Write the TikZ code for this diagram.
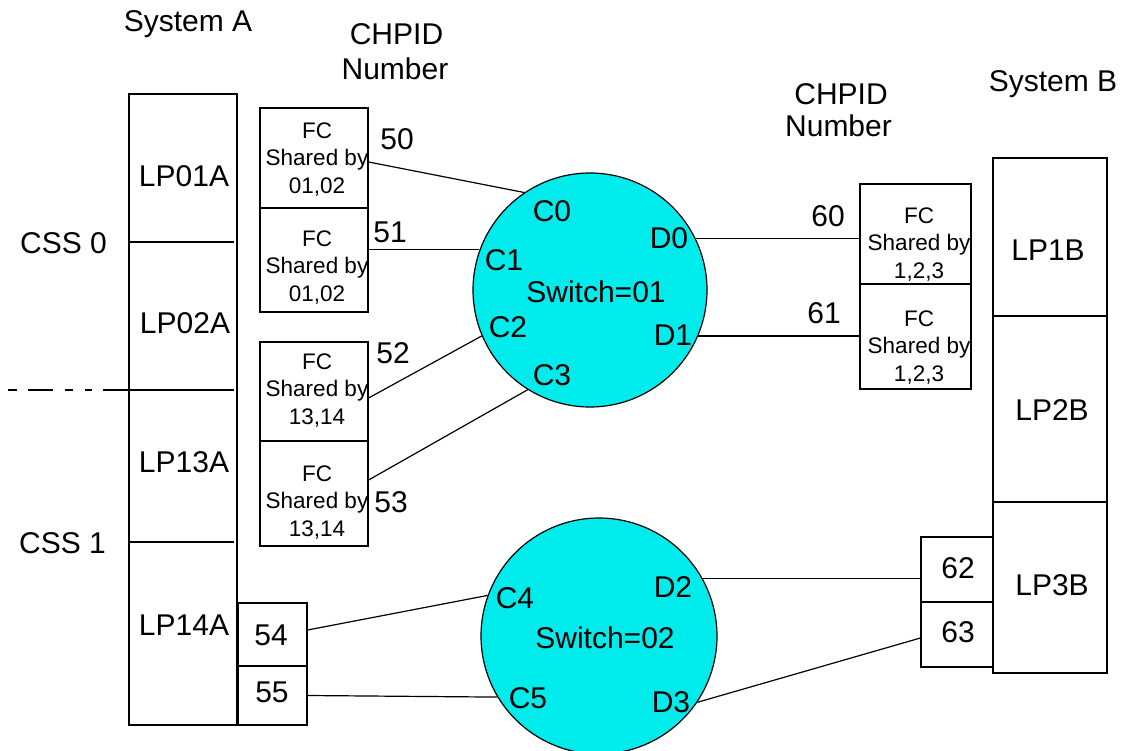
\documentclass[tikz,border=0pt]{standalone}
\usepackage{fontspec}
\setmainfont{Liberation Sans}
\definecolor{swcyan}{RGB}{0,235,235}
\begin{document}
\begin{tikzpicture}[x=1pt,y=-1pt,
  line width=1.2pt,
  big/.style={font=\fontsize{30}{35}\selectfont, inner sep=0pt, anchor=base},
  small/.style={font=\fontsize{22.5}{27.5}\selectfont, inner sep=0pt, anchor=north, align=center},
  rect/.style={draw, rectangle, inner sep=0pt, minimum width=#1},
  switch/.style={draw, circle, fill=swcyan, inner sep=0pt, minimum size=#1}
]
\useasboundingbox (0,0) rectangle (1123,751);

% ---------- System A ----------
\node[big] (tSysA) at (188,32) {System A};
\node[rect=108pt, minimum height=631pt] (sysA) at (183,409.5) {};
\coordinate (dA1l) at (129,242); \coordinate (dA1r) at (234,242);
\coordinate (dA2l) at (129,390); \coordinate (dA2r) at (234,390);
\coordinate (dA3l) at (129,542); \coordinate (dA3r) at (234,542);
\draw (dA1l) -- (dA1r);
\draw (dA2l) -- (dA2r);
\draw (dA3l) -- (dA3r);
\node[big] (lp01a) at (184,187) {LP01A};
\node[big] (lp02a) at (185,333) {LP02A};
\node[big] (lp13a) at (184,472) {LP13A};
\node[big] (lp14a) at (184,635) {LP14A};

\node[big] (css0) at (63.5,253) {CSS 0};
\node[big] (css1) at (62.5,553) {CSS 1};
% dash-dot separator
\draw (8,390) -- (17,390);
\draw (28,390) -- (53,390);
\draw (65,390) -- (73,390);
\draw (85,390) -- (92,390);
\draw (103,390) -- (dA2l);

% ---------- CHPID labels ----------
\node[big] (chpidL) at (396.5,45) {CHPID};
\node[big] (numL) at (395,80) {Number};
\node[big] (chpidR) at (841,105) {CHPID};
\node[big] (numR) at (838.5,137) {Number};

% ---------- FC boxes System A ----------
\node[rect=108pt, minimum height=100pt] (fc1) at (314,158) {};
\node[rect=108pt, minimum height=104pt] (fc2) at (314,260) {};
\node[rect=108pt, minimum height=99pt] (fc3) at (314,391.5) {};
\node[rect=108pt, minimum height=105pt] (fc4) at (314,493.5) {};
\node[small] (fc1t) at (317,122) {FC\\Shared by\\01,02};
\node[small] (fc2t) at (317,230) {FC\\Shared by\\01,02};
\node[small] (fc3t) at (317,353) {FC\\Shared by\\13,14};
\node[small] (fc4t) at (317,465) {FC\\Shared by\\13,14};

\node[big] (n50) at (397,150) {50};
\node[big] (n51) at (390,243) {51};
\node[big] (n52) at (393,363) {52};
\node[big] (n53) at (391,512) {53};

% ---------- ports 54/55 ----------
\node[rect=69pt, minimum height=63pt] (p54) at (272.5,634.5) {};
\node[rect=69pt, minimum height=59pt] (p55) at (272.5,695.5) {};
\node[big] (n54) at (271,645) {54};
\node[big] (n55) at (272,702) {55};

% ---------- Switch 01 ----------
\node[switch=234pt] (sw1) at (590,290) {};
\node[big] (sw1t) at (596,302) {Switch=01};
\node[big] (c0) at (552,222) {C0};
\node[big] (c1) at (504,270) {C1};
\node[big] (c2) at (508,337) {C2};
\node[big] (c3) at (552,385) {C3};
\node[big] (d0) at (669,248) {D0};
\node[big] (d1) at (673,345) {D1};

% ---------- Switch 02 ----------
\node[switch=236pt] (sw2) at (599,636) {};
\node[big] (sw2t) at (605,648) {Switch=02};
\node[big] (c4) at (515,608) {C4};
\node[big] (c5) at (528,708) {C5};
\node[big] (d2) at (673,597) {D2};
\node[big] (d3) at (671,712) {D3};

% ---------- FC boxes System B ----------
\node[rect=111pt, minimum height=100pt] (fcA) at (915.5,234) {};
\node[rect=111pt, minimum height=105pt] (fcB) at (915.5,336.5) {};
\node[small] (fcAt) at (919,207) {FC\\Shared by\\1,2,3};
\node[small] (fcBt) at (919,310) {FC\\Shared by\\1,2,3};
\node[big] (n60) at (828,227) {60};
\node[big] (n61) at (824,323) {61};

% ---------- System B ----------
\node[big] (tSysB) at (1053,92) {System B};
\node[rect=114pt, minimum height=515pt] (sysB) at (1050,415.5) {};
\draw (sysB.west |- 0,316) -- (sysB.east |- 0,316);
\draw (sysB.west |- 0,502) -- (sysB.east |- 0,502);
\node[big] (lp1b) at (1048,260) {LP1B};
\node[big] (lp2b) at (1052,420) {LP2B};
\node[big] (lp3b) at (1052,595) {LP3B};

\node[rect=72pt, minimum height=65pt] (p62) at (957,569.5) {};
\node[rect=72pt, minimum height=65pt] (p63) at (957,634.5) {};
\node[big] (n62) at (958,578) {62};
\node[big] (n63) at (958,642) {63};

% ---------- connectors ----------
\draw ([yshift=-4pt]fc1.east) -- (sw1.124);
\draw (sw1.160.5) -- (sw1.160.5 -| fc2.east);
\draw ([yshift=-6.5pt]fc3.east) -- (sw1.203);
\draw ([yshift=13.5pt]fc4.east) -- (sw1.238);
\draw (sw1.26.9) -- (sw1.26.9 -| fcA.west);
\draw (sw1.-23.2) -- (sw1.-23.2 -| fcB.west);

\draw ([yshift=4.5pt]p54.east) -- (sw2.160.6);
\draw (p55.east) -- (sw2.211.7);
\draw (sw2.29.8) -- (sw2.29.8 -| p62.west);
\draw (sw2.326.8) -- ([yshift=-3.5pt]p63.west);
\end{tikzpicture}
\end{document}
